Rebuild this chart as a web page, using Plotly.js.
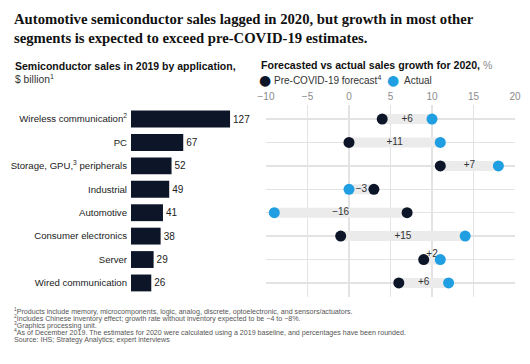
<!DOCTYPE html>
<html>
<head>
<meta charset="utf-8">
<script src="https://cdn.plot.ly/plotly-3.0.1.min.js"></script>
<style>html,body{margin:0;padding:0;background:#fff;}#chart{width:530px;height:364px;}</style>
</head>
<body>
<div id="chart"></div>
<script>
// ---- data ----
const categories = [
  "Wireless communication<sup>2</sup>",
  "PC",
  "Storage, GPU,<sup>3</sup> peripherals",
  "Industrial",
  "Automotive",
  "Consumer electronics",
  "Server",
  "Wired communication"
];
const sales2019 = [127, 67, 52, 49, 41, 38, 29, 26];
const forecast2020 = [4, 0, 11, 3, 7, -1, 9, 6];
const actual2020 = [10, 11, 18, 0, -9, 14, 11, 12];
const diffLabels = ["+6", "+11", "+7", "\u22123", "\u221216", "+15", "+2", "+6"];
const growthTicks = [-10, -5, 0, 5, 10, 15, 20];
const growthTickText = ["\u221210", "\u22125", "0", "5", "10", "15", "20"];
const seriesNames = ["Pre-COVID-19 forecast<sup>4</sup>", "Actual"];
const footnotes = [
  "<sup>1</sup>Products include memory, microcomponents, logic, analog, discrete, optoelectronic, and sensors/actuators.",
  "<sup>2</sup>Includes Chinese inventory effect; growth rate without inventory expected to be \u22124 to \u22128%.",
  "<sup>3</sup>Graphics processing unit.",
  "<sup>4</sup>As of December 2019. The estimates for 2020 were calculated using a 2019 baseline, and percentages have been rounded.",
  "Source: IHS; Strategy Analytics; expert interviews"
];

// ---- styles ----
const NAVY = "#0c1628";
const BLUE = "#1f9fe2";
const BAND = "#ebebeb";
const GRID = "#e3e3e3";
const SANS = "Liberation Sans, Arial, sans-serif";

// band segments between forecast and actual
const bandX = [], bandY = [];
categories.forEach((c, i) => {
  bandX.push(forecast2020[i], actual2020[i], null);
  bandY.push(c, c, null);
});
const midX = categories.map((c, i) => (forecast2020[i] + actual2020[i]) / 2);
const textPos = categories.map((c, i) => (i === 6 ? "top center" : "middle center"));

const traces = [
  {
    type: "bar", orientation: "h",
    x: sales2019, y: categories,
    xaxis: "x", yaxis: "y",
    marker: {color: NAVY},
    width: 0.72,
    text: sales2019.map(String), textposition: "outside",
    textfont: {family: SANS, size: 10, color: "#222"},
    cliponaxis: false, hoverinfo: "skip", showlegend: false
  },
  {
    type: "scatter", mode: "lines",
    x: bandX, y: bandY, xaxis: "x2", yaxis: "y2",
    line: {color: BAND, width: 10}, hoverinfo: "skip", showlegend: false,
    connectgaps: false
  },
  {
    type: "scatter", mode: "text",
    x: midX, y: categories, xaxis: "x2", yaxis: "y2",
    text: diffLabels, textposition: textPos,
    textfont: {family: SANS, size: 10, color: "#333"},
    hoverinfo: "skip", showlegend: false, cliponaxis: false
  },
  {
    type: "scatter", mode: "markers", name: seriesNames[0],
    x: forecast2020, y: categories, xaxis: "x2", yaxis: "y2",
    marker: {color: NAVY, size: 11}, cliponaxis: false, showlegend: false
  },
  {
    type: "scatter", mode: "markers", name: seriesNames[1],
    x: actual2020, y: categories, xaxis: "x2", yaxis: "y2",
    marker: {color: BLUE, size: 11}, cliponaxis: false, showlegend: false
  }
];

const W = 530, H = 364, T = 105, B = 67;
const px = x => x / W;
const py = y => (H - B - y) / (H - T - B);

const annotations = [
  {text: "<b>Automotive semiconductor sales lagged in 2020, but growth in most other<br>segments is expected to exceed pre-COVID-19 estimates.</b>",
   x: px(12), y: py(28.5), font: {family: "Liberation Serif, DejaVu Serif, serif", size: 14.7, color: "#111"}},
  {text: "<b>Semiconductor sales in 2019 by application,</b>", x: px(13), y: py(66), font: {family: SANS, size: 10.5, color: "#111"}},
  {text: "$ billion<sup>1</sup>", x: px(13), y: py(78.5), font: {family: SANS, size: 10.3, color: "#333"}},
  {text: "<b>Forecasted vs actual sales growth for 2020,</b> <span style='color:#8a8a8a'>%</span>", x: px(259), y: py(65), font: {family: SANS, size: 10.6, color: "#111"}},
  {text: "\u25cf", x: px(257), y: py(80), font: {family: "DejaVu Sans", size: 14, color: NAVY}},
  {text: seriesNames[0], x: px(272), y: py(80), font: {family: SANS, size: 10, color: "#333"}},
  {text: "\u25cf", x: px(385), y: py(80), font: {family: "DejaVu Sans", size: 14, color: BLUE}},
  {text: seriesNames[1], x: px(402), y: py(80), font: {family: SANS, size: 10, color: "#333"}}
];
footnotes.forEach((f, i) => {
  annotations.push({text: f, x: px(12), y: py(311 + i * 7.3), font: {family: SANS, size: 7.1, color: "#555"}});
});
annotations.forEach((a, i) => {
  a.xref = "paper"; a.yref = "paper"; a.xanchor = "left"; a.yanchor = "middle";
  a.showarrow = false; a.align = "left";
});

const layout = {
  width: W, height: H,
  margin: {l: 0, r: 0, t: T, b: B, pad: 0},
  paper_bgcolor: "#fff", plot_bgcolor: "#fff",
  xaxis: {
    domain: [px(131), px(250)], range: [0, 152.6],
    showgrid: false, zeroline: false, showticklabels: false, showline: false, fixedrange: true
  },
  yaxis: {
    anchor: "x", type: "category", categoryorder: "array", categoryarray: categories,
    range: [7.6, -0.6], showgrid: false, zeroline: false, showline: false,
    ticks: "", ticklabelstandoff: 3,
    tickfont: {family: SANS, size: 9.6, color: "#222"}
  },
  xaxis2: {
    domain: [px(266), px(515)], range: [-10, 20], anchor: "y2", side: "top",
    tickvals: growthTicks, ticktext: growthTickText,
    showgrid: true, gridcolor: GRID, gridwidth: 1.5, zeroline: false, showline: false,
    ticks: "", ticklabelstandoff: 2,
    tickfont: {family: SANS, size: 10, color: "#8a8a8a"}
  },
  yaxis2: {
    anchor: "x2", matches: "y", type: "category", categoryorder: "array", categoryarray: categories,
    range: [7.6, -0.6], showticklabels: false, showgrid: true, gridcolor: GRID, gridwidth: 1.5,
    zeroline: false, showline: false, ticks: ""
  },
  annotations: annotations,
  showlegend: false
};

Plotly.newPlot("chart", traces, layout, {displayModeBar: false, staticPlot: true});
</script>
</body>
</html>
